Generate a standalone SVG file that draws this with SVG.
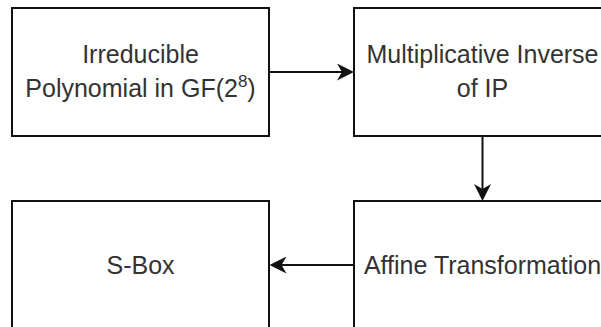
<svg xmlns="http://www.w3.org/2000/svg" width="601" height="327" viewBox="0 0 601 327">
<style>
.box{fill:#ffffff;stroke:#111111;stroke-width:2}
.lbl{font-family:"Liberation Sans",Arial,sans-serif;font-size:25px;fill:#333333;text-anchor:middle}
.edge{stroke:#111111;stroke-width:2;fill:none}
</style>
<defs>
<marker id="arr" viewBox="0 0 17 17" refX="13" refY="8.5" markerWidth="17" markerHeight="17" markerUnits="userSpaceOnUse" orient="auto">
<path d="M17,8.5 L0,0 L5,8.5 L0,17 Z" fill="#111111"/>
</marker>
</defs>
<rect width="601" height="327" fill="#ffffff"/>
<g id="connectors">
<line class="edge" x1="270" y1="72" x2="350" y2="72" marker-end="url(#arr)"/>
<line class="edge" x1="482.5" y1="137" x2="482.5" y2="197" marker-end="url(#arr)"/>
<line class="edge" x1="354" y1="265" x2="273.5" y2="265" marker-end="url(#arr)"/>
</g>
<g id="node-irreducible">
<rect class="box" x="12" y="8" width="257" height="128"/>
<text class="lbl" x="140.5" y="63">Irreducible</text>
<text class="lbl" x="140.5" y="97">Polynomial in GF(2<tspan dy="-10" font-size="17">8</tspan><tspan dy="10">)</tspan></text>
</g>
<g id="node-inverse">
<rect class="box" x="354" y="8" width="257" height="128"/>
<text class="lbl" x="482.5" y="63">Multiplicative Inverse</text>
<text class="lbl" x="482.5" y="97">of IP</text>
</g>
<g id="node-affine">
<rect class="box" x="354" y="201" width="257" height="128"/>
<text class="lbl" x="482.5" y="273.5">Affine Transformation</text>
</g>
<g id="node-sbox">
<rect class="box" x="12" y="201" width="257" height="128"/>
<text class="lbl" x="140.5" y="273.5">S-Box</text>
</g>
</svg>
